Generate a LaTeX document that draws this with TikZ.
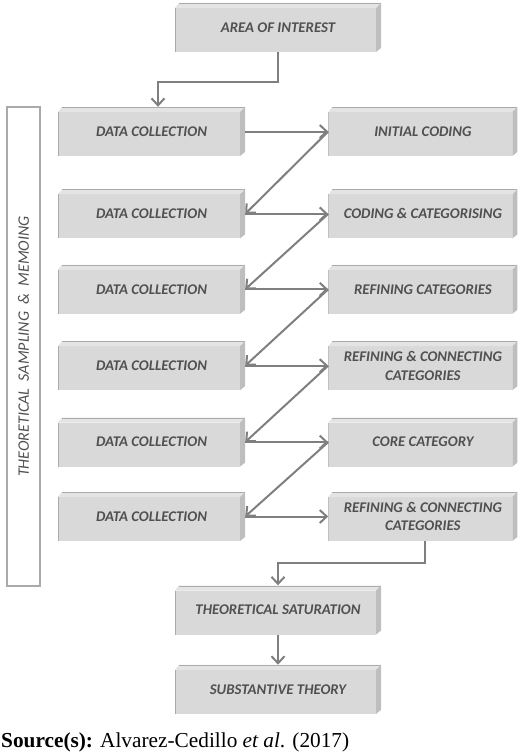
\documentclass[tikz,border=0pt]{standalone}
\usepackage{fontspec}
\setmainfont{Liberation Serif}
\setsansfont{Carlito}
\usepackage{tikz}
\usetikzlibrary{arrows.meta,positioning}
\definecolor{facegray}{RGB}{217,217,217}
\definecolor{topgray}{RGB}{228,228,228}
\definecolor{sidegray}{RGB}{190,190,190}
\definecolor{edgegray}{RGB}{170,170,170}
\definecolor{inkgray}{RGB}{80,80,80}
\definecolor{arrowgray}{RGB}{127,127,127}

\def\ppnw{path picture bounding box.north west}
\def\ppne{path picture bounding box.north east}
\def\ppse{path picture bounding box.south east}
\def\ppsw{path picture bounding box.south west}

\begin{document}
\begin{tikzpicture}[x=1pt, y=-1pt,
  stage/.style={minimum width=187pt, minimum height=49pt, inner sep=2pt, align=center,
    text=inkgray, font=\sffamily\bfseries\itshape\fontsize{14.8}{18.5}\selectfont,
    path picture={
      \fill[facegray] ([yshift=-5pt]\ppnw) rectangle ([xshift=-5pt]\ppse);
      \fill[topgray] ([yshift=-5pt]\ppnw) -- ([xshift=4pt]\ppnw) -- (\ppne) -- ([shift={(-5pt,-5pt)}]\ppne) -- cycle;
      \draw[edgegray, line width=0.8pt] ([xshift=4pt,yshift=-0.4pt]\ppnw) -- ([yshift=-0.4pt]\ppne);
      \fill[sidegray] ([shift={(-5pt,-5pt)}]\ppne) -- (\ppne) -- ([yshift=4pt]\ppse) -- ([xshift=-5pt]\ppse) -- cycle;
      \draw[edgegray, line width=1pt] ([shift={(0.5pt,-5pt)}]\ppnw) -- ([xshift=0.5pt]\ppsw);
    }},
  sidebox/.style={draw=edgegray, line width=1.2pt, text=inkgray,
    font=\sffamily\itshape\fontsize{16}{18}\selectfont},
  flow/.style={draw=arrowgray, line width=2pt, -{Straight Barb[length=7pt,width=13pt]}}
]
\useasboundingbox (0,0) rectangle (520,752);

\node[stage, minimum width=206pt] (aoi) at (278,27.5) {AREA OF INTEREST};

% left column
\node[stage] (dc1) at (151.5,131.5) {DATA COLLECTION};
\node[stage, below=33pt of dc1] (dc2) {DATA COLLECTION};
\node[stage, below=26pt of dc2] (dc3) {DATA COLLECTION};
\node[stage, below=27pt of dc3] (dc4) {DATA COLLECTION};
\node[stage, below=27pt of dc4] (dc5) {DATA COLLECTION};
\node[stage, below=25pt of dc5] (dc6) {DATA COLLECTION};

% right column
\node[stage, minimum width=189pt, right=83pt of dc1] (rc1) {INITIAL CODING};
\node[stage, minimum width=189pt, right=83pt of dc2] (rc2) {CODING \& CATEGORISING};
\node[stage, minimum width=189pt, right=83pt of dc3] (rc3) {REFINING CATEGORIES};
\node[stage, minimum width=189pt, right=83pt of dc4] (rc4) {REFINING \& CONNECTING\\CATEGORIES};
\node[stage, minimum width=189pt, right=83pt of dc5] (rc5) {CORE CATEGORY};
\node[stage, minimum width=189pt, right=83pt of dc6] (rc6) {REFINING \& CONNECTING\\CATEGORIES};

\node[stage, minimum width=206pt] (ts) at (278,610) {THEORETICAL SATURATION};
\node[stage, minimum width=206pt, below=30pt of ts] (st) {SUBSTANTIVE THEORY};

\node[sidebox, rotate=90, minimum width=479pt, minimum height=33pt] (side) at (23.5,346.5)
  {THEORETICAL\ \ SAMPLING\ \ \&\ \ MEMOING};

\node[anchor=base west, font=\fontsize{21.3}{24}\selectfont, inner sep=0pt] (src) at (1,747)
  {\textbf{Source(s):} Alvarez-Cedillo \textit{et al}. (2017)};

\draw[flow] (aoi.south) -- ++(0,30) -| ([xshift=6.5pt]dc1.north);
\draw[flow] (dc1) -- (rc1);
\draw[flow] (rc1.west) -- (dc2.east);
\draw[flow] (dc2) -- (rc2);
\draw[flow] (rc2.west) -- (dc3.east);
\draw[flow] (dc3) -- (rc3);
\draw[flow] (rc3.west) -- (dc4.east);
\draw[flow] (dc4) -- (rc4);
\draw[flow] (rc4.west) -- (dc5.east);
\draw[flow] (dc5) -- (rc5);
\draw[flow] (rc5.west) -- (dc6.east);
\draw[flow] (dc6) -- (rc6);
\draw[flow] ([xshift=2.5pt]rc6.south) -- ++(0,22) -| (ts.north);
\draw[flow] (ts) -- (st);
\end{tikzpicture}
\end{document}
